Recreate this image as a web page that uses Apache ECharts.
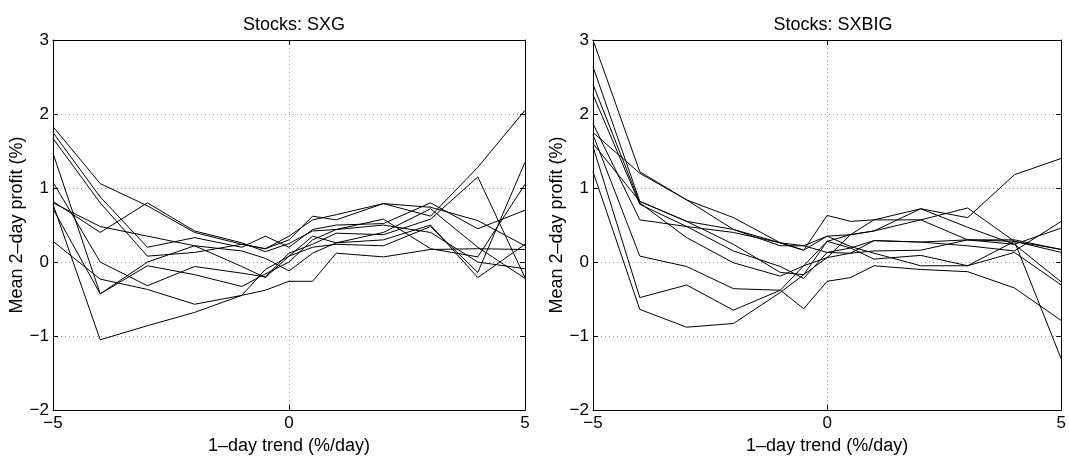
<!DOCTYPE html>
<html>
<head>
<meta charset="utf-8">
<script src="https://cdn.jsdelivr.net/npm/echarts@6/dist/echarts.min.js"></script>
<style>
  html, body { margin: 0; padding: 0; background: #fff; }
  #chart { width: 1069px; height: 460px; }
</style>
</head>
<body>
<div id="chart"></div>
<script>
// trend values (x) shared by every curve
const trendX = [-5, -4, -3, -2, -1, -0.5, 0, 0.5, 1, 2, 3, 4, 5];
const xTicks = [-5, 0, 5];
const yTicks = [-2, -1, 0, 1, 2, 3];

// Stocks: SXG
const sxg1 = [1.83, 1.06, 0.76, 0.40, 0.24, 0.18, 0.30, 0.62, 0.57, 0.79, 0.74, 0.56, 0.22];
const sxg2 = [1.75, 0.88, 0.20, 0.33, 0.20, 0.35, 0.20, 0.44, 0.50, 0.52, 0.80, 0.45, 0.70];
const sxg3 = [1.67, 0.80, 0.08, 0.13, 0.24, 0.18, 0.35, 0.57, 0.64, 0.79, 0.62, 1.28, 2.05];
const sxg4 = [1.47, -0.43, 0.00, 0.22, -0.06, -0.21, 0.08, 0.35, 0.26, 0.30, 0.50, -0.21, 0.24];
const sxg5 = [1.08, 0.00, -0.32, -0.06, -0.15, -0.20, 0.12, 0.24, 0.39, 0.37, 0.58, 1.15, -0.21];
const sxg6 = [0.82, 0.40, 0.80, 0.42, 0.26, 0.14, 0.25, 0.42, 0.44, 0.58, 0.18, 0.07, 1.05];
const sxg7 = [0.78, -1.05, -0.86, -0.68, -0.45, -0.38, -0.26, -0.26, 0.12, 0.07, 0.17, 0.18, 0.17];
const sxg8 = [0.72, -0.43, -0.05, -0.17, -0.33, -0.16, 0.00, 0.30, 0.44, 0.50, 0.40, 0.00, -0.09];
const sxg9 = [0.28, -0.23, -0.37, -0.57, -0.45, -0.10, 0.08, 0.20, 0.24, 0.22, 0.48, -0.14, 1.35];
const sxg10 = [0.80, 0.48, 0.35, 0.22, 0.15, 0.05, -0.12, 0.12, 0.26, 0.40, 0.72, 0.20, -0.22];

// Stocks: SXBIG
const sxbig1 = [3.00, 1.22, 0.84, 0.60, 0.26, 0.16, 0.35, 0.37, 0.57, 0.72, 0.60, 1.18, 1.40];
const sxbig2 = [1.75, 1.20, 0.84, 0.44, 0.22, 0.22, 0.13, 0.19, 0.29, 0.27, 0.30, 0.28, 0.17];
const sxbig3 = [2.64, 0.82, 0.55, 0.24, -0.14, -0.17, 0.06, 0.37, 0.42, 0.57, 0.30, 0.24, -0.27];
const sxbig4 = [2.26, 0.78, 0.48, 0.15, -0.06, -0.22, 0.13, 0.12, 0.15, 0.16, 0.30, 0.30, 0.17];
const sxbig5 = [1.87, 0.57, 0.48, 0.40, 0.26, 0.16, 0.63, 0.55, 0.57, 0.57, 0.73, 0.28, 0.13];
const sxbig6 = [1.72, 0.08, -0.06, -0.36, -0.38, -0.63, -0.26, -0.21, -0.05, -0.10, -0.13, -0.35, -0.79];
const sxbig7 = [1.56, -0.48, -0.31, -0.65, -0.38, -0.05, 0.06, 0.12, 0.29, 0.27, 0.22, 0.15, 0.55];
const sxbig8 = [1.22, -0.64, -0.88, -0.83, -0.41, -0.17, 0.28, 0.19, 0.04, 0.09, -0.05, 0.28, -1.31];
const sxbig9 = [2.40, 0.80, 0.33, -0.01, -0.19, -0.05, 0.28, 0.37, 0.42, 0.72, 0.47, 0.24, 0.46];
const sxbig10 = [1.60, 0.82, 0.55, 0.44, 0.26, 0.22, 0.35, 0.21, 0.12, -0.05, -0.05, 0.13, -0.31];

const sxgLines = [sxg1, sxg2, sxg3, sxg4, sxg5, sxg6, sxg7, sxg8, sxg9, sxg10];
const sxbigLines = [sxbig1, sxbig2, sxbig3, sxbig4, sxbig5, sxbig6, sxbig7, sxbig8, sxbig9, sxbig10];

const FONT = "'Liberation Sans', Arial, Helvetica, sans-serif";
const FS = 17;     // tick labels
const FS_NAME = 18; // titles and axis names

function minusFmt(v) {
  return v < 0 ? "\u2212" + Math.abs(v) : String(v);
}

function xAxisFor(gridIndex, pos) {
  const bottom = pos === "bottom";
  return {
    type: "value",
    gridIndex: gridIndex,
    position: pos,
    min: -5,
    max: 5,
    interval: 5,
    name: bottom ? "1\u2013day trend (%/day)" : "",
    nameLocation: "middle",
    nameGap: 25,
    nameTextStyle: { color: "#000", fontSize: FS_NAME, fontFamily: FONT },
    axisLine: { show: true, onZero: false, lineStyle: { color: "#000", width: 1 } },
    axisTick: { show: true, inside: true, length: 5, lineStyle: { color: "#000" } },
    axisLabel: {
      show: bottom,
      color: "#000",
      fontSize: FS,
      fontFamily: FONT,
      margin: 5,
      formatter: minusFmt
    },
    splitLine: {
      show: bottom,
      lineStyle: { color: "#9a9a9a", type: [1, 3], width: 1 }
    }
  };
}

function yAxisFor(gridIndex, pos) {
  const left = pos === "left";
  return {
    type: "value",
    gridIndex: gridIndex,
    position: pos,
    min: -2,
    max: 3,
    interval: 1,
    name: left ? "Mean 2\u2013day profit (%)" : "",
    nameLocation: "middle",
    nameGap: 23,
    nameTextStyle: { color: "#000", fontSize: FS_NAME, fontFamily: FONT },
    axisLine: { show: true, onZero: false, lineStyle: { color: "#000", width: 1 } },
    axisTick: { show: true, inside: true, length: 5, lineStyle: { color: "#000" } },
    axisLabel: {
      show: left,
      color: "#000",
      fontSize: FS,
      fontFamily: FONT,
      margin: 4,
      formatter: minusFmt
    },
    splitLine: {
      show: left,
      lineStyle: { color: "#9a9a9a", type: [1, 3], width: 1 }
    }
  };
}

function seriesFor(lines, axisIndex) {
  return lines.map(function (ys, i) {
    return {
      type: "line",
      name: "s" + axisIndex + "_" + i,
      xAxisIndex: axisIndex,
      yAxisIndex: axisIndex,
      data: trendX.map(function (x, k) { return [x, ys[k]]; }),
      showSymbol: false,
      symbol: "none",
      silent: true,
      animation: false,
      lineStyle: { color: "#000", width: 1 }
    };
  });
}

const chart = echarts.init(document.getElementById("chart"), null, { renderer: "canvas" });

const option = {
  backgroundColor: "#fff",
  animation: false,
  title: [
    {
      text: "Stocks: SXG",
      left: 289,
      top: 11,
      textAlign: "center",
      textStyle: { color: "#000", fontSize: FS_NAME, fontWeight: "normal", fontFamily: FONT }
    },
    {
      text: "Stocks: SXBIG",
      left: 828,
      top: 11,
      textAlign: "center",
      textStyle: { color: "#000", fontSize: FS_NAME, fontWeight: "normal", fontFamily: FONT }
    }
  ],
  grid: [
    { left: 53, right: 544, top: 40, bottom: 49, containLabel: false },
    { left: 593, right: 5, top: 40, bottom: 49, containLabel: false }
  ],
  xAxis: [
    xAxisFor(0, "bottom"),
    xAxisFor(1, "bottom"),
    xAxisFor(0, "top"),
    xAxisFor(1, "top")
  ],
  yAxis: [
    yAxisFor(0, "left"),
    yAxisFor(1, "left"),
    yAxisFor(0, "right"),
    yAxisFor(1, "right")
  ],
  series: seriesFor(sxgLines, 0).concat(seriesFor(sxbigLines, 1))
};

chart.setOption(option);
</script>
</body>
</html>
